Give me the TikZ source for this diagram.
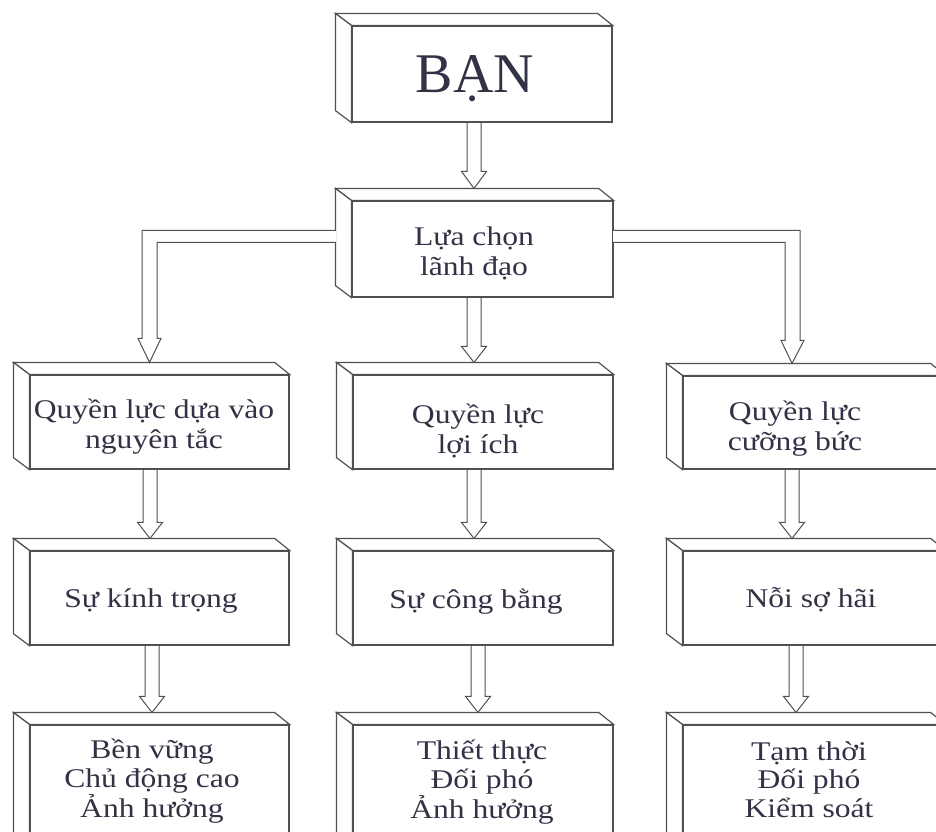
\documentclass[tikz,border=0pt]{standalone}
\usepackage{fontspec}
\setmainfont{Liberation Serif}[FakeStretch=1.17]
\newfontfamily\bigfont{Liberation Serif}
\usetikzlibrary{calc}
\definecolor{txt}{RGB}{50,50,70}
\definecolor{edge}{RGB}{80,80,80}
\tikzset{
  front/.style={draw=edge, line width=1.2pt, fill=white, inner sep=0pt, minimum width=#1},
  face/.style={draw=edge, line width=1.2pt, fill=white, line join=miter},
  lbl/.style={text=txt, inner sep=0pt, align=center, anchor=base, font=\fontsize{27}{30}\selectfont},
  lbl3/.style={lbl, font=\fontsize{27}{28.5}\selectfont},
  blk/.style={draw=edge, line width=1pt, fill=white, line join=miter}
}
\newcommand\extrude[1]{%
  \draw[face] (#1.north west) -- ++(-16,-12) -- ($(#1.north east)+(-15,-12)$) -- (#1.north east) -- cycle;
  \draw[face] (#1.north west) -- ++(-16,-12) -- ($(#1.south west)+(-16,-12)$) -- (#1.south west) -- cycle;
}
% vertical hollow arrow: from node, to node, x offset from source centre, head length
\newcommand\varr[4]{%
  \draw[blk] let \p1=(#1.south), \p2=(#2.north) in
    (\x1+#3-7pt,\y1-0.6pt) -- (\x1+#3-7pt,\y2+12pt+#4) -- (\x1+#3-12.5pt,\y2+12pt+#4)
    -- (\x1+#3,\y2+12pt) -- (\x1+#3+12.5pt,\y2+12pt+#4) -- (\x1+#3+7pt,\y2+12pt+#4)
    -- (\x1+#3+7pt,\y1-0.6pt);
}
\begin{document}
\begin{tikzpicture}[x=1pt,y=-1pt]
\useasboundingbox (0,0) rectangle (936,831);
\clip (0,0) rectangle (936,831);
% front faces
\node[front=260pt, minimum height=96pt] (ban) at (482,74) {};
\node[front=261pt, minimum height=96pt] (lua) at (482.5,249) {};
\node[front=259pt, minimum height=94pt] (q1) at (159.5,422) {};
\node[front=260pt, minimum height=94pt] (q2) at (483,422) {};
\node[front=262pt, minimum height=93pt] (q3) at (814,422.5) {};
\node[front=259pt, minimum height=94pt] (s1) at (159.5,598) {};
\node[front=260pt, minimum height=94pt] (s2) at (483,598) {};
\node[front=262pt, minimum height=94pt] (s3) at (814,598) {};
\node[front=259pt, minimum height=130pt] (e1) at (159.5,790) {};
\node[front=260pt, minimum height=130pt] (e2) at (483,790) {};
\node[front=262pt, minimum height=130pt] (e3) at (814,790) {};
\foreach \n in {ban,lua,q1,q2,q3,s1,s2,s3,e1,e2,e3} {\extrude{\n}}
% texts (anchor base = baseline of the last line)
\node[lbl, font=\bigfont\fontsize{56}{60}\selectfont] (tban) at (475,92) {BẠN};
\node[lbl] (tlua) at (474,275) {Lựa chọn\\lãnh đạo};
\node[lbl] (tq1) at (154,448) {Quyền lực dựa vào\\nguyên tắc};
\node[lbl] (tq2) at (478,453) {Quyền lực\\lợi ích};
\node[lbl] (tq3) at (795,450) {Quyền lực\\cưỡng bức};
\node[lbl] (ts1) at (151,607) {Sự kính trọng};
\node[lbl] (ts2) at (476,608) {Sự công bằng};
\node[lbl] (ts3) at (811,607) {Nỗi sợ hãi};
\node[lbl3] (te1) at (152,817) {Bền vững\\Chủ động cao\\Ảnh hưởng};
\node[lbl3] (te2) at (482,818) {Thiết thực\\Đối phó\\Ảnh hưởng};
\node[lbl3] (te3) at (809,817) {Tạm thời\\Đối phó\\Kiểm soát};
% vertical arrows
\varr{ban}{lua}{-8pt}{17pt}
\varr{lua}{q2}{-8.5pt}{16pt}
\varr{q1}{s1}{-9.5pt}{16pt}
\varr{q2}{s2}{-9pt}{16pt}
\varr{q3}{s3}{-22pt}{16pt}
\varr{s1}{e1}{-7.5pt}{16pt}
\varr{s2}{e2}{-5pt}{16pt}
\varr{s3}{e3}{-18pt}{16pt}
% branch arrows
\draw[blk] let \p1=(lua.north west), \p2=(q1.north) in
  (\x1-16pt+0.6pt,\y1-30pt) -- (\x2-17.5pt,\y1-30pt) -- (\x2-17.5pt,\y2+12pt+24pt)
  -- (\x2-21.5pt,\y2+12pt+24pt) -- (\x2-10pt,\y2+12pt) -- (\x2+1.5pt,\y2+12pt+24pt)
  -- (\x2-2.5pt,\y2+12pt+24pt) -- (\x2-2.5pt,\y1-42pt) -- (\x1-16pt+0.6pt,\y1-42pt);
\draw[blk] let \p1=(lua.north east), \p2=(q3.north) in
  (\x1-0.6pt,\y1-30pt) -- (\x2-14pt,\y1-30pt) -- (\x2-14pt,\y2+12pt+23pt)
  -- (\x2-10pt,\y2+12pt+23pt) -- (\x2-22pt,\y2+12pt) -- (\x2-33pt,\y2+12pt+23pt)
  -- (\x2-29pt,\y2+12pt+23pt) -- (\x2-29pt,\y1-42pt) -- (\x1-0.6pt,\y1-42pt);
\end{tikzpicture}
\end{document}
